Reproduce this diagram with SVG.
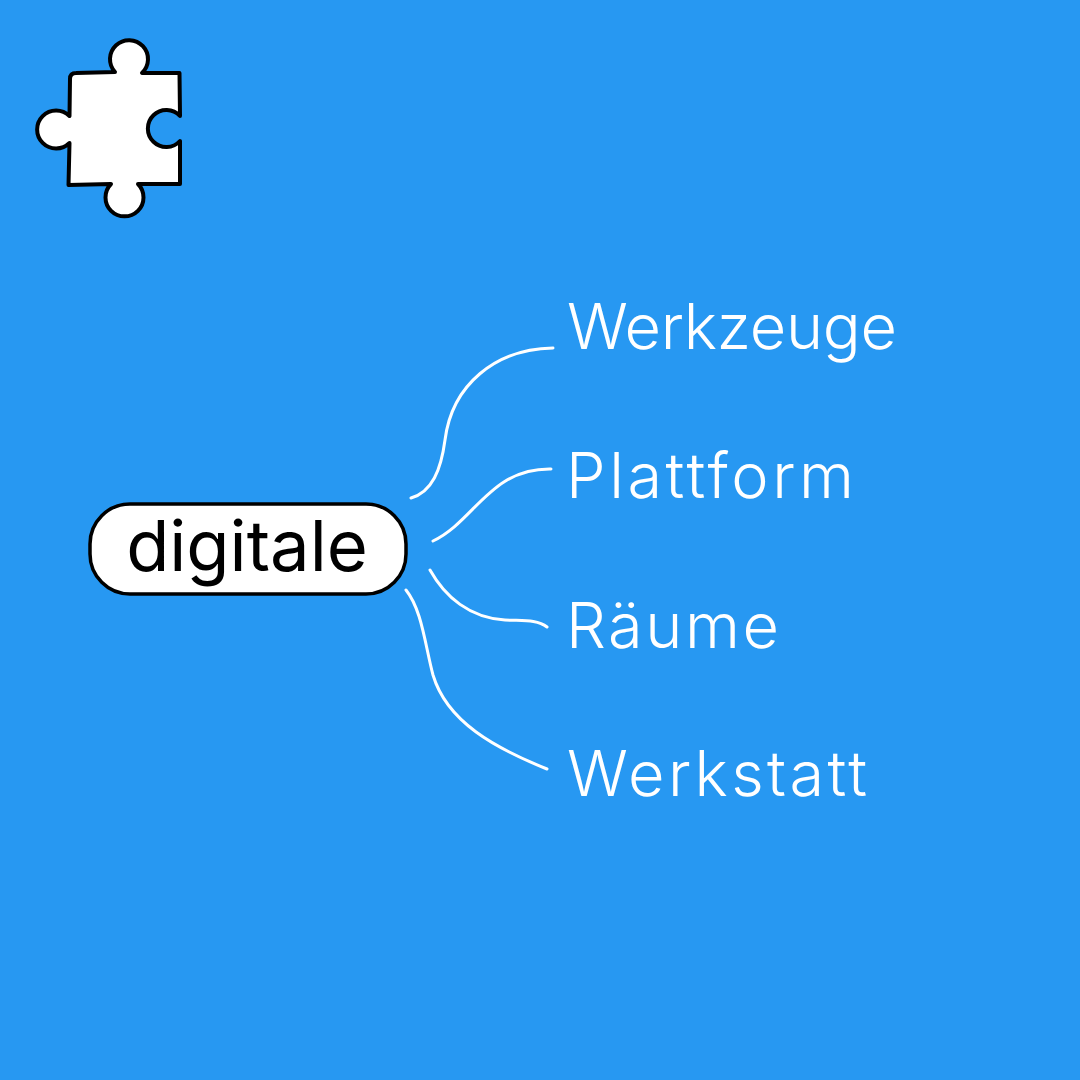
<svg xmlns="http://www.w3.org/2000/svg" width="1080" height="1080" viewBox="0 0 1080 1080">
<style>
.lbl{font-family:"Inter","Liberation Sans",sans-serif;font-size:63px;font-weight:300;fill:#fff}
.c{fill:none;stroke:#fff;stroke-width:3;stroke-linecap:round}
.o{fill:#fff;stroke:#000;stroke-width:3.5;stroke-linejoin:round}
</style>
<rect width="1080" height="1080" fill="#2798f2"/>
<g id="puzzle"><path class="o" style="stroke-width:4" d="M70 79 Q70 73 76 73 L115 72 A19 19 0 1 1 142 73 L179.500 73 L180 116 A18.500 18.500 0 1 0 180 141 L180 184 L138 184 A19 19 0 1 1 111 184 L68.500 185 L69.500 143 A19 19 0 1 1 69.500 116 Z"/></g>
<g id="node-digitale"><rect class="o" x="90" y="504" width="316" height="90" rx="40"/><text x="247" y="571" text-anchor="middle" font-family="Inter,sans-serif" font-size="70.500" fill="#000">digitale</text></g>
<g id="connectors">
<path class="c" d="M411 498 C432 492 441 470 445 440 C452 385 495 349 553 348"/>
<path class="c" d="M433 541 C475 521 490 468 551 469"/>
<path class="c" d="M430 570 C445 597 470 618 505 620 C522 621 537 619 547 627"/>
<path class="c" d="M406 590 C422 610 425 645 433 675 C447 722 495 748 547 769"/>
</g>
<g id="node-werkzeuge"><text class="lbl" x="567" y="349" textLength="330">Werkzeuge</text></g>
<g id="node-plattform"><text class="lbl" x="566" y="498" textLength="288">Plattform</text></g>
<g id="node-raeume"><text class="lbl" x="566" y="648" textLength="213">Räume</text></g>
<g id="node-werkstatt"><text class="lbl" x="567" y="796" textLength="300">Werkstatt</text></g>
</svg>
